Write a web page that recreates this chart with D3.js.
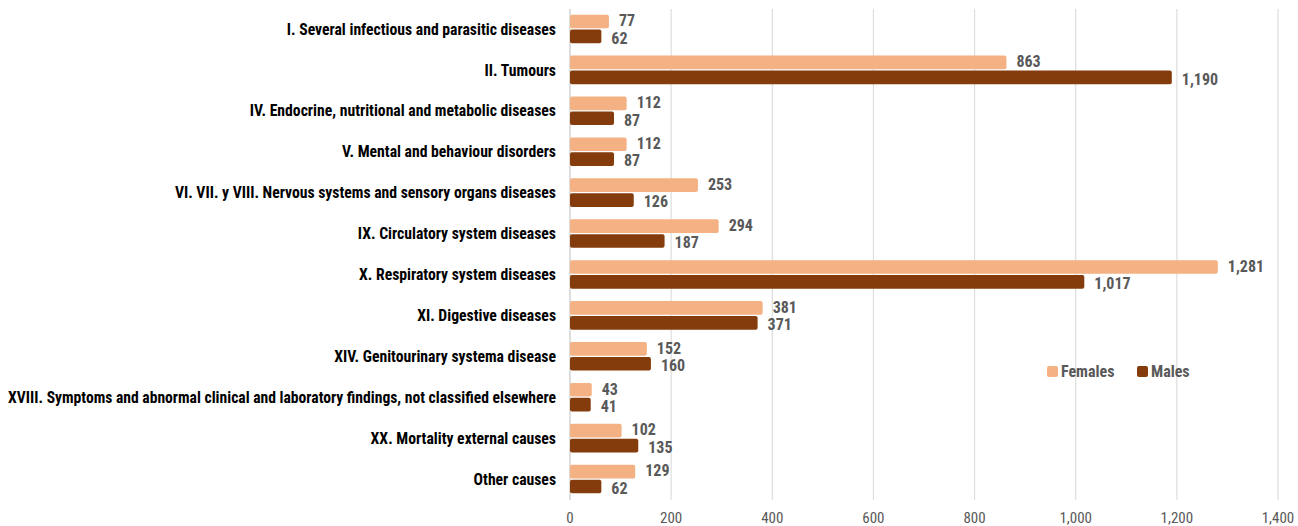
<!DOCTYPE html>
<html>
<head>
<meta charset="utf-8">
<script src="https://cdn.jsdelivr.net/npm/d3@7/dist/d3.min.js"></script>
<style>
  html, body { margin: 0; padding: 0; background: #fff; }
  svg { display: block; }
  .narrow { font-family: "Liberation Sans Narrow", "Arial Narrow", "Roboto Condensed", sans-serif; }
</style>
</head>
<body>
<svg id="chart" width="1298" height="526"></svg>
<script>
const categories = [
  "I. Several infectious and parasitic diseases",
  "II. Tumours",
  "IV. Endocrine, nutritional and metabolic diseases",
  "V. Mental and behaviour disorders",
  "VI. VII. y VIII. Nervous systems and sensory organs diseases",
  "IX. Circulatory system diseases",
  "X. Respiratory system diseases",
  "XI. Digestive diseases",
  "XIV. Genitourinary systema disease",
  "XVIII. Symptoms and abnormal clinical and laboratory findings, not classified elsewhere",
  "XX. Mortality external causes",
  "Other causes"
];
const females = [77, 863, 112, 112, 253, 294, 1281, 381, 152, 43, 102, 129];
const males   = [62, 1190, 87, 87, 126, 187, 1017, 371, 160, 41, 135, 62];
const seriesNames = ["Females", "Males"];
const seriesColors = ["#F4B183", "#843C0C"];
const xTicks = [0, 200, 400, 600, 800, 1000, 1200, 1400];

const svg = d3.select("#chart");
const fmt = d3.format(",");

const x = d3.scaleLinear().domain([0, 1400]).range([570, 1278]);
const y = d3.scaleBand().domain(categories).range([8.5, 499.5]).paddingInner(0.3).paddingOuter(0.15);
const sub = d3.scaleBand().domain(seriesNames).range([0, y.bandwidth()]).paddingInner(0.08);

// gridlines
svg.append("g").selectAll("line").data(xTicks).join("line")
  .attr("x1", d => x(d)).attr("x2", d => x(d))
  .attr("y1", 9).attr("y2", 500)
  .attr("stroke", d => d === 0 ? "#c8c8c8" : "#dedede")
  .attr("stroke-width", 1.2);

// x tick labels
svg.append("g").selectAll("text").data(xTicks).join("text")
  .attr("class", "narrow")
  .attr("x", d => x(d)).attr("y", 523)
  .attr("text-anchor", "middle")
  .attr("font-size", 15)
  .attr("fill", "#595959")
  .text(d => fmt(d));

// category labels
const labelRight = 556, labelMaxW = 548;
svg.append("g").selectAll("text").data(categories).join("text")
  .attr("class", "narrow")
  .attr("x", labelRight)
  .attr("y", d => y(d) + y.bandwidth() / 2)
  .attr("dy", "0.36em")
  .attr("text-anchor", "end")
  .attr("font-size", 15.7)
  .attr("font-weight", "bold")
  .attr("fill", "#000")
  .text(d => d)
  .each(function () {
    const w = this.getComputedTextLength();
    if (w > labelMaxW) {
      d3.select(this).attr("textLength", labelMaxW).attr("lengthAdjust", "spacingAndGlyphs");
    }
  });

const rows = categories.map((c, i) => ({ c, vals: [females[i], males[i]] }));

const g = svg.append("g").selectAll("g").data(rows).join("g")
  .attr("transform", d => `translate(0,${y(d.c)})`);

g.selectAll("rect").data(d => d.vals.map((v, j) => ({ v, s: seriesNames[j], j }))).join("rect")
  .attr("x", x(0))
  .attr("y", d => sub(d.s))
  .attr("width", d => x(d.v) - x(0))
  .attr("height", sub.bandwidth())
  .attr("rx", 2).attr("ry", 2)
  .attr("fill", d => seriesColors[d.j]);

g.selectAll("text").data(d => d.vals.map((v, j) => ({ v, s: seriesNames[j], j }))).join("text")
  .attr("class", "narrow")
  .attr("x", d => x(d.v) + 10)
  .attr("y", d => sub(d.s) + sub.bandwidth() / 2 + (d.j === 0 ? -1 : 1.5))
  .attr("dy", "0.36em")
  .attr("font-size", 16)
  .attr("font-weight", "bold")
  .attr("fill", "#595959")
  .text(d => fmt(d.v));

// legend
const legendX = [1047, 1137];
const lg = svg.append("g").selectAll("g").data(seriesNames).join("g")
  .attr("transform", (d, i) => `translate(${legendX[i]},366)`);
lg.append("rect").attr("width", 11).attr("height", 11).attr("rx", 2)
  .attr("fill", (d, i) => seriesColors[i]);
lg.append("text").attr("class", "narrow")
  .attr("x", 14).attr("y", 11)
  .attr("font-size", 16).attr("font-weight", "bold")
  .attr("fill", "#595959")
  .text(d => d);
</script>
</body>
</html>
